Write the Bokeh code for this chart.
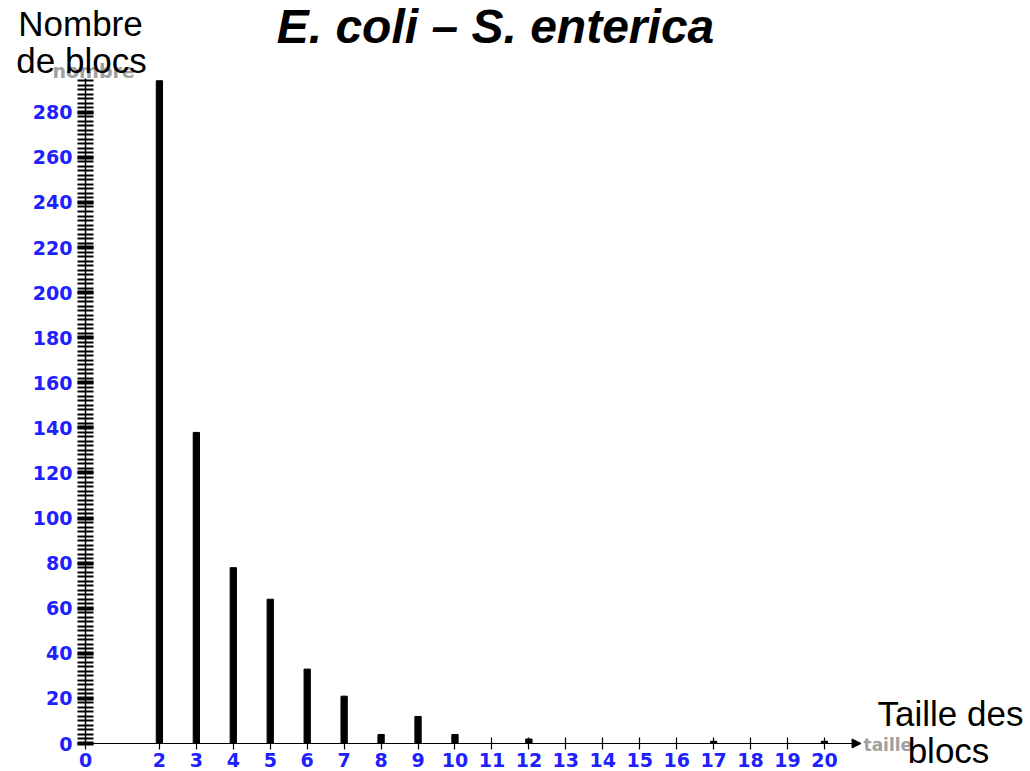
from bokeh.plotting import figure
from bokeh.models import (ColumnDataSource, FixedTicker, Label, Arrow, NormalHead, Range1d)
from bokeh.embed import file_html
from bokeh.resources import INLINE

# data
sizes = [2, 3, 4, 5, 6, 7, 8, 9, 10, 12, 17, 20]
counts = [294, 138, 78, 64, 33, 21, 4, 12, 4, 2, 1, 1]
x_ticks = [0, 2, 3, 4, 5, 6, 7, 8, 9, 10, 11, 12, 13, 14, 15, 16, 17, 18, 19, 20]
y_ticks = [0, 20, 40, 60, 80, 100, 120, 140, 160, 180, 200, 220, 240, 260, 280]
y_minor = list(range(0, 296, 2))
title_text = "E. coli \u2013 S. enterica"
ylabel_lines = ["Nombre", "de blocs"]
xlabel_lines = ["Taille des", "blocs"]

W, H = 1030, 771
L, B = 85.0, 743.0          # pixel position of the origin
X_END = 20.84                # data x at axis end (pixel 855)
Y_END = 295.0                # data y at axis top (pixel 78)
kx = (855.0 - L) / X_END
ky = (B - 78.0) / Y_END

def dx(px):
    return (px - L) / kx
def dy(py):
    return (B - py) / ky

p = figure(width=W, height=H, min_border=0,
           x_range=Range1d(dx(0), dx(W)), y_range=Range1d(dy(H), dy(0)),
           output_backend="svg", toolbar_location=None)
p.outline_line_color = None
p.xgrid.visible = False
p.ygrid.visible = False
p.background_fill_color = "white"
p.border_fill_color = "white"

src = ColumnDataSource(dict(x=sizes, top=counts))
p.vbar(x="x", top="top", width=0.17, bottom=0, color="black", source=src)

blue = "#2020ff"
# x axis
xa = p.xaxis[0]
xa.fixed_location = 0
xa.bounds = (0, X_END)
xa.ticker = FixedTicker(ticks=x_ticks)
xa.major_tick_in = 6
xa.major_tick_out = 6
xa.minor_tick_line_color = None
xa.axis_line_color = "black"
xa.axis_line_width = 1.2
xa.major_tick_line_width = 1.2
xa.major_label_text_color = blue
xa.major_label_text_font = "DejaVu Sans"
xa.major_label_text_font_style = "bold"
xa.major_label_text_font_size = "19px"
xa.major_label_standoff = 3

# y axis
ya = p.yaxis[0]
ya.fixed_location = 0
ya.bounds = (0, Y_END)
ya.ticker = FixedTicker(ticks=y_ticks, minor_ticks=y_minor)
ya.major_tick_in = 8
ya.major_tick_out = 8
ya.minor_tick_in = 8
ya.minor_tick_out = 8
ya.major_tick_line_width = 4
ya.minor_tick_line_width = 2
ya.axis_line_width = 1.5
ya.major_label_text_color = blue
ya.major_label_text_font = "DejaVu Sans"
ya.major_label_text_font_style = "bold"
ya.major_label_text_font_size = "19px"
ya.major_label_standoff = 5

# axis arrow
p.add_layout(Arrow(end=NormalHead(size=9, fill_color="black", line_color="black"),
                   x_start=X_END - 0.05, y_start=0, x_end=X_END + 0.15, y_end=0,
                   line_color="black", line_width=1.2))

# gray axis names
gray = dict(text_color="#a0a0a0", text_font="DejaVu Sans", text_font_style="bold")
p.add_layout(Label(x=dx(52), y=dy(81), text="nombre", text_font_size="19px", **gray))
p.add_layout(Label(x=dx(863), y=dy(754), text="taille", text_font_size="17px", **gray))

# big overlay texts
big = dict(text_font="Liberation Sans", text_font_size="35px", text_color="black",
           text_align="center")
p.add_layout(Label(x=dx(80), y=dy(42), text=ylabel_lines[0], **big))
p.add_layout(Label(x=dx(81), y=dy(79), text=ylabel_lines[1], **big))
p.add_layout(Label(x=dx(950), y=dy(732), text=xlabel_lines[0], **big))
p.add_layout(Label(x=dx(948), y=dy(769), text=xlabel_lines[1], **big))

# title
p.add_layout(Label(x=dx(495), y=dy(52), text=title_text, text_font="Liberation Sans",
                   text_font_size="48px", text_font_style="bold italic",
                   text_color="black", text_align="center"))

open("out.html", "w").write(file_html(p, INLINE))
